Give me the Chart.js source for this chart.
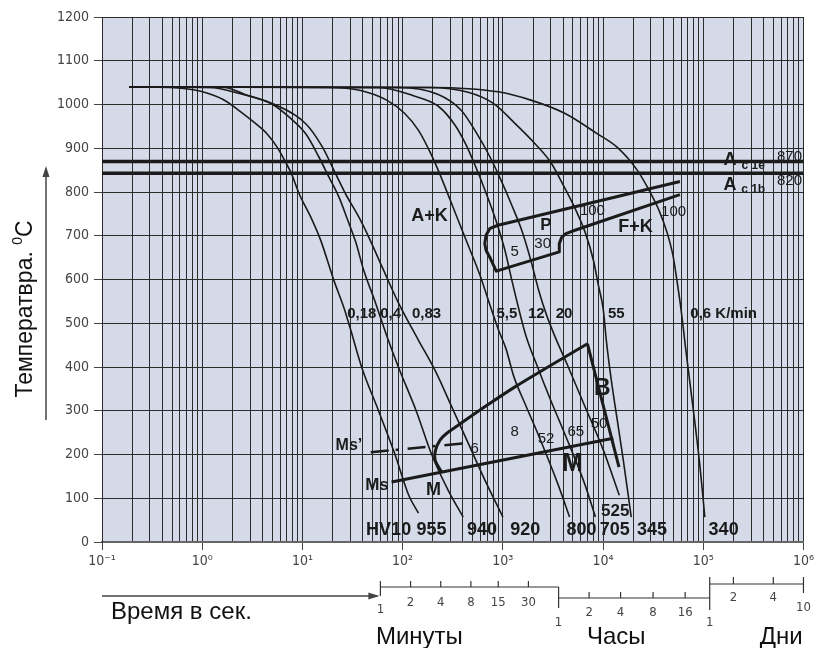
<!DOCTYPE html>
<html>
<head>
<meta charset="utf-8">
<script src="https://cdn.jsdelivr.net/npm/chart.js@4.4.0/dist/chart.umd.min.js"></script>
<style>
  html, body { margin: 0; padding: 0; background: #fff; }
  canvas { display: block; }
</style>
</head>
<body>
<canvas id="cct" width="817" height="648"></canvas>
<script>
// время в секундах, температура в °C
var decades = [-1, 0, 1, 2, 3, 4, 5];
var yTickStep = 100;

// кривые охлаждения (слева направо)
var curve018 = [[0.187,1040],[0.476,1039],[0.944,1031],[1.6,1012],[2.37,985],[3.47,955],[4.47,932],[5.61,902],[6.73,870],[7.73,843],[9.27,796],[12.1,743],[15.2,690],[20.6,598],[25.9,536],[30.4,484],[39.1,399],[57.7,299],[83.1,203],[115,107],[144,66]];
var curve04 = [[0.187,1040],[1.19,1039],[2.36,1025],[5.04,1000],[7.38,971],[10.8,933],[14.6,880],[18.4,834],[23.1,789],[28.4,735],[34.1,685],[40.9,621],[52.6,552],[69.2,472],[91.1,399],[137,299],[194,201],[285,118],[402,57]];
var curve083 = [[0.187,1040],[1.67,1039],[2.6,1024],[5.3,1000],[10.8,956],[15.8,903],[21.4,842],[26.9,796],[36.5,743],[45.9,697],[63.2,626],[91.1,546],[144,461],[212,391],[306,311],[451,226],[664,141],[1002,57]];
var curve55 = [[0.187,1040],[18.4,1039],[38.2,1032],[69.2,1010],[104.4,980],[144,941],[189,890],[238,838],[299,781],[375,724],[472,667],[593,609],[728,548],[894,488],[1074,442],[1288,378],[1657,317],[2231,248],[3523,134],[4636,57]];
var curve12 = [[0.187,1040],[57.7,1039],[128,1020],[227,996],[335,952],[431,907],[528,861],[664,804],[854,735],[1049,667],[1231,598],[1413,541],[1696,472],[2231,399],[3003,324],[4135,248],[6531,134],[8394,57]];
var curve20 = [[0.187,1040],[91.1,1039],[227,1023],[384,987],[553,933],[745,880],[958,827],[1231,769],[1547,712],[1902,644],[2281,575],[2738,518],[3364,466],[4424,404],[6531,312],[10070,210],[14530,107]];
var curve55b = [[0.187,1040],[181,1039],[451,1028],[798,1003],[1320,957],[2084,911],[3003,868],[3776,827],[5200,765],[6674,706],[8013,644],[8982,587],[10070,530],[10780,461],[12090,370],[13880,278],[15920,187],[17830,107],[19110,57]];
var curve06 = [[0.187,1040],[194,1039],[894,1029],[1902,1010],[4135,980],[8788,933],[13880,902],[21920,850],[28800,804],[36180,758],[43440,708],[49830,655],[54600,598],[59820,534],[67100,438],[75200,347],[84300,255],[92500,175],[98900,107],[103600,57]];
var coolingCurves = [curve018, curve04, curve083, curve55, curve12, curve20, curve55b, curve06];

// Ac1e / Ac1b
var acTemps = [870, 843];

// область перлита P
var pearliteOutline = [[58500,824],[894,724],[745,717],[680,701],[660,682],[680,667],[740,651],[860,619],[3660,663],[3660,682],[3857,696],[4260,705],[5160,712],[58500,794]];
// область бейнита B
var bainiteNose = [[245,160],[211,187],[213,210],[236,233],[274,248],[359,267],[660,309],[1310,354],[3020,404],[6990,453]];
var bainiteEnd = [[6990,453],[14420,171]];
var msLine = [[77.6,137],[12650,237]];
var msPrimeLine = [[48.1,205],[421,226]];

// подписи
var rateLabels = ['0,18', '0,4', '0,83', '5,5', '12', '20', '55', '0,6 K/min'];
var rateLabelSec = [39.1, 75.8, 173, 1099, 2155, 4084, 13560, 159700];
var rateLabelT = 522;
var hardness = ['HV10', '955', '940', '920', '800', '705', '345', '340'];
var hardnessSec = [72.5, 194, 621, 1676, 6090, 13100, 30800, 159700];
var hardnessT = 27;
var regionLabels = [['A+K',185,746,18],['P',2697,724,17],['F+K',21050,720,18],['B',9840,351,23],['M',4960,179,25],['M',203,118,18],['Ms\u2019',29.1,221,16],['Ms',55.5,130,17],['525',13250,70,17]];
var shareLabels = [['5',1310,663],['30',2500,682],['100',7830,758],['100',50600,754],['8',1310,251],['52',2697,236],['65',5350,251],['50',9120,271],['6',525,213]];
var acLabels = [['c 1e', '870'], ['c 1b', '820']];
var acLabelT = [872, 816];

// шкалы минут / часов / дней, в секундах
var minuteSec = [60, 120, 240, 480, 900, 1800, 3600];
var minuteLbl = ['1', '2', '4', '8', '15', '30'];
var hourSec = [3600, 7260, 14960, 31560, 65970, 116000];
var hourLbl = ['1', '2', '4', '8', '16', '1'];
var daySec = [116000, 200000, 500000, 1000000];
var dayLbl = ['', '2', '4', '10'];

var SANS = '"Liberation Sans", Arial, sans-serif';
var NARROW = '"Liberation Sans Narrow", "DejaVu Sans Condensed", sans-serif';
var INK = '#1b1b1b';

function isDecade(v) {
  var l = Math.log10(v);
  return Math.abs(l - Math.round(l)) < 1e-6;
}
var supMap = { '-': '\u207B', '0': '\u2070', '1': '\u00B9', '2': '\u00B2', '3': '\u00B3', '4': '\u2074', '5': '\u2075', '6': '\u2076' };
function powLabel(v) {
  var e = String(Math.round(Math.log10(v)));
  return '10' + e.split('').map(function (c) { return supMap[c]; }).join('');
}
function pts(arr) {
  return arr.map(function (p) { return { x: p[0], y: p[1] }; });
}

var datasets = [];
acTemps.forEach(function (t) {
  datasets.push({ data: pts([[0.1, t], [1e6, t]]), borderColor: INK, borderWidth: 3.5, tension: 0 });
});
coolingCurves.forEach(function (c) {
  datasets.push({ data: pts(c), borderColor: INK, borderWidth: 1.6, cubicInterpolationMode: 'monotone' });
});
datasets.push({ data: pts(pearliteOutline), borderColor: INK, borderWidth: 3, tension: 0, borderJoinStyle: 'round' });
datasets.push({ data: pts(bainiteNose), borderColor: INK, borderWidth: 3, tension: 0.35 });
datasets.push({ data: pts(bainiteEnd), borderColor: INK, borderWidth: 3, tension: 0 });
datasets.push({ data: pts(msLine), borderColor: INK, borderWidth: 3, tension: 0 });
datasets.push({ data: pts(msPrimeLine), borderColor: INK, borderWidth: 2.5, borderDash: [18, 7, 3, 9], tension: 0 });

var bgPlugin = {
  id: 'bg',
  beforeDraw: function (chart) {
    var ctx = chart.ctx, a = chart.chartArea;
    ctx.save();
    ctx.fillStyle = '#ffffff';
    ctx.fillRect(0, 0, chart.width, chart.height);
    ctx.fillStyle = '#d4dae8';
    ctx.fillRect(a.left, a.top, a.right - a.left, a.bottom - a.top);
    ctx.restore();
  },
  beforeDatasetsDraw: function (chart) {
    var ctx = chart.ctx, xs = chart.scales.x, ys = chart.scales.y;
    ctx.save();
    ctx.fillStyle = INK;
    ctx.textBaseline = 'middle';
    ctx.textAlign = 'center';
    acLabels.forEach(function (l, i) {
      var y = ys.getPixelForValue(acLabelT[i]);
      ctx.font = 'bold 18px ' + SANS;
      ctx.fillText('A', xs.getPixelForValue(184500), y);
      ctx.font = 'bold 12px ' + SANS;
      ctx.fillText(l[0], xs.getPixelForValue(315000), y + 5);
      ctx.font = '15px ' + SANS;
      ctx.fillText(l[1], xs.getPixelForValue(726000), y - 4);
    });
    ctx.restore();
  }
};

var textPlugin = {
  id: 'texts',
  afterDatasetsDraw: function (chart) {
    var ctx = chart.ctx, xs = chart.scales.x, ys = chart.scales.y;
    ctx.save();
    ctx.fillStyle = INK;
    ctx.textAlign = 'center';
    ctx.textBaseline = 'middle';
    ctx.font = 'bold 15px ' + SANS;
    rateLabels.forEach(function (t, i) {
      ctx.fillText(t, xs.getPixelForValue(rateLabelSec[i]), ys.getPixelForValue(rateLabelT));
    });
    ctx.font = 'bold 18px ' + SANS;
    hardness.forEach(function (t, i) {
      ctx.fillText(t, xs.getPixelForValue(hardnessSec[i]), ys.getPixelForValue(hardnessT));
    });
    regionLabels.forEach(function (l) {
      ctx.font = 'bold ' + l[3] + 'px ' + SANS;
      ctx.fillText(l[0], xs.getPixelForValue(l[1]), ys.getPixelForValue(l[2]));
    });
    ctx.font = '15px ' + SANS;
    shareLabels.forEach(function (l) {
      ctx.fillText(l[0], xs.getPixelForValue(l[1]), ys.getPixelForValue(l[2]));
    });
    ctx.restore();
  },
  afterDraw: function (chart) {
    var ctx = chart.ctx, xs = chart.scales.x, a = chart.chartArea;
    var b = a.bottom;
    function X(s) { return xs.getPixelForValue(s); }
    function seg(x1, y1, x2, y2) { ctx.beginPath(); ctx.moveTo(x1, y1); ctx.lineTo(x2, y2); ctx.stroke(); }
    ctx.save();
    ctx.strokeStyle = '#333';
    ctx.lineWidth = 1.2;
    ctx.fillStyle = '#444';
    ctx.textAlign = 'center';
    ctx.textBaseline = 'middle';
    ctx.font = '13px ' + NARROW;

    // минуты
    var ym = b + 45;
    seg(X(minuteSec[0]), ym, X(minuteSec[minuteSec.length - 1]), ym);
    seg(X(minuteSec[0]), ym - 6, X(minuteSec[0]), ym + 9);
    minuteSec.forEach(function (s, i) {
      if (i > 0 && i < minuteSec.length - 1) { seg(X(s), ym - 6, X(s), ym); ctx.fillText(minuteLbl[i], X(s), ym + 16); }
    });
    ctx.fillText(minuteLbl[0], X(minuteSec[0]), ym + 23);

    // часы
    var yh = b + 56;
    seg(X(hourSec[0]), yh, X(hourSec[hourSec.length - 1]), yh);
    seg(X(hourSec[0]), ym, X(hourSec[0]), yh + 10);
    hourSec.forEach(function (s, i) {
      if (i > 0 && i < hourSec.length - 1) { seg(X(s), yh - 6, X(s), yh); ctx.fillText(hourLbl[i], X(s), yh + 15); }
    });
    ctx.fillText(hourLbl[0], X(hourSec[0]), yh + 25);
    ctx.fillText(hourLbl[hourLbl.length - 1], X(hourSec[hourSec.length - 1]), yh + 25);

    // дни
    var yd = b + 42;
    seg(X(daySec[0]), yd, X(daySec[daySec.length - 1]), yd);
    seg(X(daySec[0]), yd - 7, X(daySec[0]), yh + 12);
    daySec.forEach(function (s, i) {
      if (i > 0 && i < daySec.length - 1) { seg(X(s), yd - 7, X(s), yd); ctx.fillText(dayLbl[i], X(s), yd + 14); }
    });
    var last = X(daySec[daySec.length - 1]);
    seg(last, yd - 7, last, yd + 9);
    ctx.fillText(dayLbl[dayLbl.length - 1], last, yd + 24);

    // подписи осей
    ctx.fillStyle = '#111';
    ctx.font = '24px ' + SANS;
    ctx.fillText('\u041C\u0438\u043D\u0443\u0442\u044B', X(147), b + 95);
    ctx.fillText('\u0427\u0430\u0441\u044B', X(13560), b + 95);
    ctx.fillText('\u0414\u043D\u0438', X(601000), b + 95);
    ctx.textAlign = 'left';
    ctx.fillText('\u0412\u0440\u0435\u043C\u044F \u0432 \u0441\u0435\u043A.', a.left + 9, b + 70);

    // стрелка времени
    ctx.strokeStyle = '#444';
    ctx.fillStyle = '#444';
    ctx.lineWidth = 1.5;
    seg(a.left, b + 54, X(56), b + 54);
    ctx.beginPath();
    ctx.moveTo(X(56) + 2, b + 54); ctx.lineTo(X(56) - 9, b + 50.5); ctx.lineTo(X(56) - 9, b + 57.5); ctx.closePath(); ctx.fill();

    // стрелка и подпись температуры
    seg(46, 420, 46, 172);
    ctx.beginPath();
    ctx.moveTo(46, 166); ctx.lineTo(42.5, 177); ctx.lineTo(49.5, 177); ctx.closePath(); ctx.fill();

    ctx.translate(24, 309);
    ctx.rotate(-Math.PI / 2);
    ctx.fillStyle = '#111';
    ctx.textAlign = 'left';
    ctx.textBaseline = 'alphabetic';
    var main = '\u0422\u0435\u043C\u043F\u0435\u0440\u0430\u0442\u0432\u0440\u0430. ';
    ctx.font = '23px ' + SANS;
    var w1 = ctx.measureText(main).width, w3 = ctx.measureText('C').width;
    ctx.font = '14px ' + SANS;
    var w2 = ctx.measureText('0').width;
    var x0 = -(w1 + w2 + w3) / 2;
    ctx.font = '23px ' + SANS;
    ctx.fillText(main, x0, 8);
    ctx.font = '14px ' + SANS;
    ctx.fillText('0', x0 + w1, -2);
    ctx.font = '23px ' + SANS;
    ctx.fillText('C', x0 + w1 + w2, 8);
    ctx.restore();
  }
};

new Chart(document.getElementById('cct'), {
  type: 'line',
  data: { datasets: datasets },
  options: {
    responsive: false,
    animation: false,
    devicePixelRatio: 1,
    layout: { padding: { top: 17, right: 10, left: 0, bottom: 0 } },
    elements: { point: { radius: 0 }, line: { fill: false } },
    plugins: { legend: { display: false }, tooltip: { enabled: false } },
    scales: {
      x: {
        type: 'logarithmic',
        min: 0.1,
        max: 1e6,
        afterBuildTicks: function (scale) {
          var t = [];
          decades.forEach(function (e) {
            for (var m = 1; m <= 9; m++) t.push({ value: m * Math.pow(10, e) });
          });
          t.push({ value: 1e6 });
          scale.ticks = t;
        },
        afterFit: function (scale) { scale.height = 106; },
        ticks: {
          autoSkip: false,
          maxRotation: 0,
          padding: 3,
          color: '#444',
          font: { family: NARROW, size: 14 },
          callback: function (v) { return isDecade(v) ? powLabel(v) : ''; }
        },
        grid: {
          color: '#2b2b2b',
          lineWidth: 1,
          tickLength: 8,
          tickColor: function (c) { return c.tick && isDecade(c.tick.value) ? '#444' : 'rgba(0,0,0,0)'; }
        },
        border: { color: '#666', width: 2 }
      },
      y: {
        min: 0,
        max: 1200,
        afterFit: function (scale) { scale.width = 102; },
        ticks: {
          stepSize: yTickStep,
          padding: 5,
          color: '#444',
          font: { family: NARROW, size: 14 },
          callback: function (v) { return String(v); }
        },
        grid: { color: '#2b2b2b', lineWidth: 1, tickLength: 8, tickColor: '#444' },
        border: { color: '#2b2b2b', width: 1 }
      }
    }
  },
  plugins: [bgPlugin, textPlugin]
});
</script>
</body>
</html>
